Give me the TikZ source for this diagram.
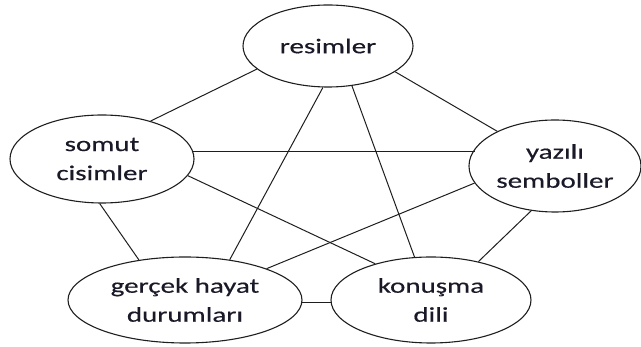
\documentclass[tikz,border=0pt]{standalone}
\usepackage{fontspec}
\setmainfont{Carlito}[FakeStretch=1.38,FakeBold=0.4]
\usetikzlibrary{shapes.geometric}
\definecolor{ink}{RGB}{25,25,40}
\definecolor{edge}{RGB}{30,30,30}
\begin{document}
\begin{tikzpicture}[x=1pt,y=-1pt,
  idea/.style={ellipse,draw=edge,line width=1.1pt,inner sep=0pt,align=center,
    text=ink,font=\fontsize{21}{29}\selectfont},
  link/.style={draw=edge,line width=1pt}]
\useasboundingbox (0,0) rectangle (641,347);
% concepts
\node[idea,minimum width=170pt,minimum height=82pt] (R) at (328,46) {resimler};
\node[idea,minimum width=184pt,minimum height=88pt] (S) at (102,159) {somut\\cisimler};
\node[idea,minimum width=172pt,minimum height=92pt] (Y) at (555,166) {yazılı\\semboller};
\node[idea,minimum width=234pt,minimum height=86pt] (G) at (185,300) {gerçek hayat\\durumları};
\node[idea,minimum width=200pt,minimum height=86pt] (K) at (431,300) {konuşma\\dili};
% relations
\draw[link] (R.198.4) -- (S.38.4);
\draw[link] (R.263) -- (G.42);
\draw[link] (R.301.6) -- (K.111);
\draw[link] (R.-21) -- (Y.149.5);
\draw[link] (S.5.7) -- (Y.168.8 |- S.5.7);
\draw[link] (S.-11.7) -- (K.147.5);
\draw[link] (S.267.3) -- (G.139);
\draw[link] (Y.192) -- (G.21.9);
\draw[link] (Y.242.4) -- (K.39.2);
\draw[link] (G.-1.5) -- (K.181.8 |- G.-1.5);
\end{tikzpicture}
\end{document}
